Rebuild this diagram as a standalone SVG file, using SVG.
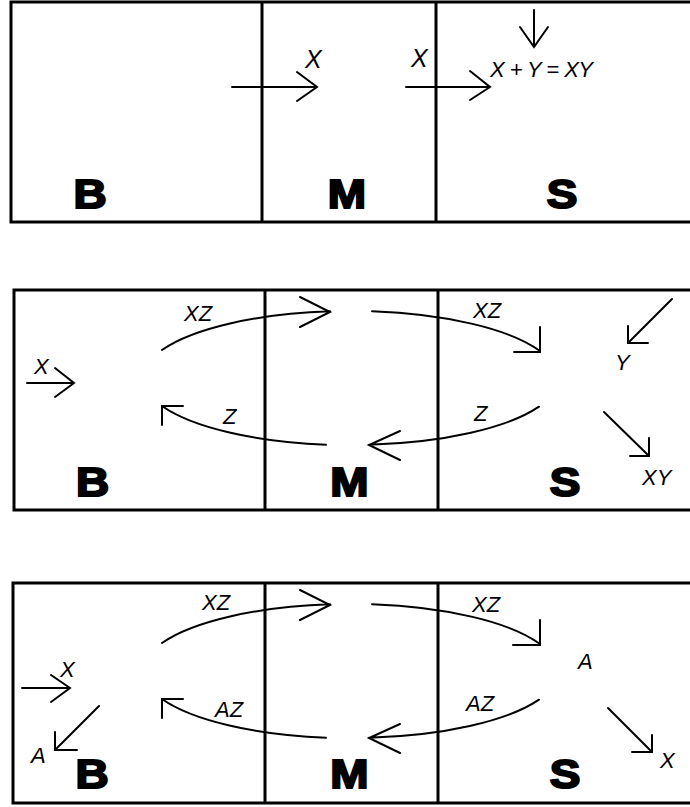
<svg xmlns="http://www.w3.org/2000/svg" width="690" height="807" viewBox="0 0 690 807">
<style>
.frame{fill:none;stroke:#000;stroke-width:3}
.div{stroke:#000;stroke-width:3}
.ln{fill:none;stroke:#000;stroke-width:2;stroke-linecap:round;stroke-linejoin:miter}
.lbl{font-family:"Liberation Sans",Arial,sans-serif;font-style:italic;font-size:22px;fill:#000}
.lblL{font-size:25px}
.big{font-family:"Liberation Sans",Arial,sans-serif;font-weight:bold;font-size:40px;fill:#000;stroke:#000;stroke-width:2;text-anchor:middle}
</style>
<rect width="690" height="807" fill="#fff"/>

<!-- Panel 1 -->
<g id="panel1">
  <rect class="frame" x="11" y="2" width="700" height="220"/>
  <line class="div" x1="262" y1="2" x2="262" y2="222"/>
  <line class="div" x1="436" y1="2" x2="436" y2="222"/>
  <g id="p1-B"><text class="big" transform="translate(90,208) scale(1.15,1)">B</text></g>
  <g id="p1-M"><text class="big" transform="translate(347,208) scale(1.15,1)">M</text></g>
  <g id="p1-S"><text class="big" transform="translate(562,208) scale(1.15,1)">S</text></g>
  <text class="lbl lblL" x="305" y="68">X</text>
  <text class="lbl lblL" x="411" y="67">X</text>
  <text class="lbl" x="490" y="77" textLength="103">X + Y = XY</text>
</g>

<!-- Panel 2 -->
<g id="panel2">
  <rect class="frame" x="14" y="290" width="700" height="220"/>
  <line class="div" x1="265" y1="290" x2="265" y2="510"/>
  <line class="div" x1="438" y1="290" x2="438" y2="510"/>
  <g id="p2-B"><text class="big" transform="translate(92.5,496) scale(1.15,1)">B</text></g>
  <g id="p2-M"><text class="big" transform="translate(349.5,496) scale(1.15,1)">M</text></g>
  <g id="p2-S"><text class="big" transform="translate(565,496) scale(1.15,1)">S</text></g>
  <text class="lbl" x="184" y="321">XZ</text>
  <text class="lbl" x="34" y="374">X</text>
  <text class="lbl" x="223" y="424">Z</text>
  <text class="lbl" x="473" y="318">XZ</text>
  <text class="lbl" x="474" y="421">Z</text>
  <text class="lbl" x="615" y="370">Y</text>
  <text class="lbl" x="642" y="485">XY</text>
</g>

<!-- Panel 3 -->
<g id="panel3">
  <rect class="frame" x="13" y="583" width="700" height="220"/>
  <line class="div" x1="265" y1="583" x2="265" y2="803"/>
  <line class="div" x1="438" y1="583" x2="438" y2="803"/>
  <g id="p3-B"><text class="big" transform="translate(92,788) scale(1.15,1)">B</text></g>
  <g id="p3-M"><text class="big" transform="translate(349.5,788) scale(1.15,1)">M</text></g>
  <g id="p3-S"><text class="big" transform="translate(565,788) scale(1.15,1)">S</text></g>
  <text class="lbl" x="202" y="610">XZ</text>
  <text class="lbl" x="60" y="677">X</text>
  <text class="lbl" x="31" y="763">A</text>
  <text class="lbl" x="215" y="717">AZ</text>
  <text class="lbl" x="472" y="612">XZ</text>
  <text class="lbl" x="578" y="669">A</text>
  <text class="lbl" x="466" y="711">AZ</text>
  <text class="lbl" x="660" y="768">X</text>
</g>

<!-- Connectors -->
<g id="connectors">
  <!-- panel 1 -->
  <path class="ln" d="M232,87 H317 M297,72 L317,87 L297,101"/>
  <path class="ln" d="M406,87 H490 M470,71 L490,87 L470,100"/>
  <path class="ln" d="M534,10 V47 M520,27 L534,47 L548,27"/>
  <!-- panel 2 -->
  <path class="ln" d="M27,383 H74 M55,368 L74,383 L55,397"/>
  <path class="ln" d="M162,350 A208,67 0 0 1 330,311.3 M300,297 L330,312 L300,327"/>
  <path class="ln" d="M372,311.3 A208,67 0 0 1 540,351 M540,327 V352 H514"/>
  <path class="ln" d="M539,406.7 A208,67 0 0 1 369,444.8 M400,431 L369,445 L400,460"/>
  <path class="ln" d="M326,444.7 A208,67 0 0 1 162,406 M162,425 V406 H183"/>
  <path class="ln" d="M672,299 L628,343 M628,326 V343 H648"/>
  <path class="ln" d="M604,412 L649,456 M649,438 V456 H630"/>
  <!-- panel 3 -->
  <path class="ln" d="M22,688 H70 M51,675 L70,688 L51,702"/>
  <path class="ln" d="M99,706 L55,750 M55,732 V750 H77"/>
  <path class="ln" d="M162,643 A208,67 0 0 1 330,604.3 M300,590 L330,605 L300,620"/>
  <path class="ln" d="M372,604.3 A208,67 0 0 1 540,644 M540,620 V645 H513"/>
  <path class="ln" d="M539,699.7 A208,67 0 0 1 369,737.8 M400,724 L369,738 L400,753"/>
  <path class="ln" d="M326,737.7 A208,67 0 0 1 162,699 M162,718 V699 H183"/>
  <path class="ln" d="M608,708 L652,752 M652,735 V752 H632"/>
</g>
</svg>
